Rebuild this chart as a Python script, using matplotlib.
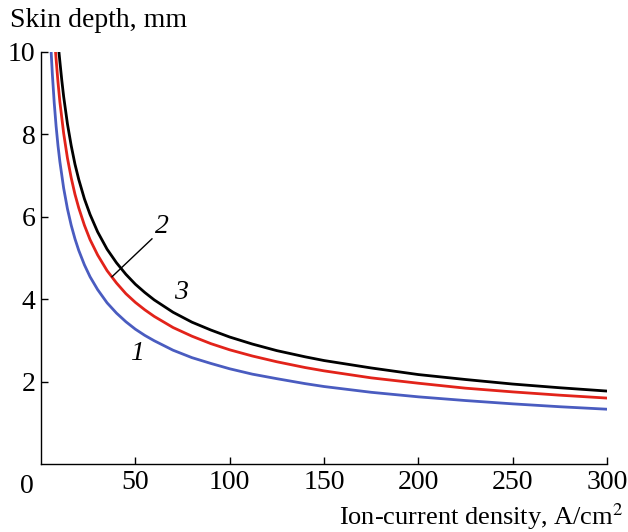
import matplotlib
matplotlib.use("Agg")
import matplotlib.pyplot as plt

plt.rcParams["font.family"] = ["Liberation Serif", "DejaVu Serif"]
plt.rcParams["mathtext.fontset"] = "stix"

# Values
x_blue = [5.4, 6, 7, 8, 9, 10, 12, 14, 16, 18, 20, 23, 26, 30, 35, 40, 45, 50,
          55, 60, 70, 80, 90, 100, 112, 125, 140, 150, 175, 200, 225, 250, 275, 300]
y_blue = [9.98, 9.47, 8.77, 8.20, 7.73, 7.34, 6.70, 6.20, 5.80, 5.47, 5.19,
          4.84, 4.55, 4.24, 3.92, 3.67, 3.46, 3.28, 3.13, 3.00, 2.77, 2.59,
          2.45, 2.32, 2.19, 2.08, 1.96, 1.89, 1.75, 1.64, 1.55, 1.47, 1.40, 1.34]

x_red = [7.7, 8, 9, 10, 12, 14, 16, 18, 20, 23, 26, 30, 35, 40, 45, 50, 55,
         60, 70, 80, 90, 100, 112, 125, 140, 150, 175, 200, 225, 250, 275, 300]
y_red = [10.0, 9.83, 9.27, 8.79, 8.03, 7.43, 6.95, 6.55, 6.22, 5.80, 5.45,
         5.08, 4.70, 4.40, 4.14, 3.93, 3.75, 3.59, 3.32, 3.11, 2.93, 2.78,
         2.63, 2.49, 2.35, 2.27, 2.10, 1.97, 1.85, 1.76, 1.68, 1.61]

x_black = [9.5, 10, 11, 12, 14, 16, 18, 20, 23, 26, 30, 35, 40, 45, 50, 55,
           60, 70, 80, 90, 100, 112, 125, 140, 150, 175, 200, 225, 250, 275, 300]
y_black = [10.0, 9.77, 9.32, 8.92, 8.26, 7.73, 7.28, 6.91, 6.44, 6.06, 5.64,
           5.22, 4.89, 4.61, 4.37, 4.17, 3.99, 3.69, 3.45, 3.26, 3.09, 2.92,
           2.76, 2.61, 2.52, 2.34, 2.18, 2.06, 1.95, 1.86, 1.78]

x_ticks = [50, 100, 150, 200, 250, 300]
y_ticks = [2, 4, 6, 8, 10]

fig = plt.figure(figsize=(6.28, 5.32), dpi=100)
ax = fig.add_axes([0.0653, 0.1269, 0.9013, 0.7754])

ax.plot(x_blue, y_blue, color="#4a5cc0", lw=2)
ax.plot(x_red, y_red, color="#e2231a", lw=2)
ax.plot(x_black, y_black, color="black", lw=2)

ax.set_xlim(0, 300)
ax.set_ylim(0, 10)
ax.set_xticks(x_ticks)
ax.set_yticks(y_ticks)
ax.tick_params(direction="in", length=5, width=1, labelsize=20, pad=4)
ax.spines["top"].set_visible(False)
ax.spines["right"].set_visible(False)
for s in ("left", "bottom"):
    ax.spines[s].set_linewidth(1)

# curve labels
ax.text(51, 2.7, "1", fontsize=20, style="italic", ha="center", va="center")
ax.text(64, 5.78, "2", fontsize=20, style="italic", ha="center", va="center")
ax.text(74, 4.18, "3", fontsize=20, style="italic", ha="center", va="center")
ax.plot([58.8, 37.6], [5.47, 4.55], color="black", lw=1)

fig.text(27 / 628, 1 - 493 / 532, "0", fontsize=20, ha="center", va="baseline")
fig.text(10 / 628, 1 - 27 / 532, "Skin depth, mm", fontsize=20, va="baseline")
fig.text(623 / 628, 1 - 525 / 532, "Ion-current density, A/cm$^2$",
         fontsize=19, ha="right", va="baseline")

fig.savefig("out.png", dpi=100)
